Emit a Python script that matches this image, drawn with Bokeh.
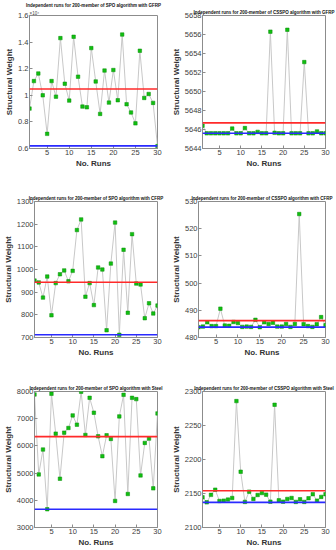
from bokeh.plotting import figure
from bokeh.layouts import column, row
from bokeh.models import Range1d, FixedTicker, Span, Title, ColumnDataSource
from bokeh.embed import file_html
from bokeh.resources import INLINE

runs = list(range(1, 31))

titles = [
    "Independent runs for 200-member of SPO algorithm with GFRP",
    "Independent runs for 200-member of CSSPO algorithm with GFRP",
    "Independent runs for 200-member of SPO algorithm with CFRP",
    "Independent runs for 200-member of CSSPO algorithm with CFRP",
    "Independent runs for 200-member of SPO algorithm with Steel",
    "Independent runs for 200-member of CSSPO algorithm with Steel",
]

spo_gfrp = [0.90, 1.107, 1.164, 1.0, 0.71, 1.107, 0.99, 1.43, 1.087, 0.96,
            1.44, 1.14, 0.915, 0.91, 1.355, 1.104, 0.86, 1.186, 0.945, 1.19,
            0.963, 1.457, 0.933, 0.871, 0.789, 1.335, 0.98, 1.01, 0.943, 0.618]
csspo_gfrp = [5646.4, 5645.6, 5645.6, 5645.6, 5645.6, 5645.6, 5645.6, 5646.1, 5645.6, 5645.6,
              5646.15, 5645.6, 5645.6, 5645.75, 5645.6, 5645.6, 5656.3, 5645.65, 5645.6, 5645.6,
              5656.5, 5645.6, 5645.6, 5645.6, 5653.1, 5645.6, 5645.6, 5645.8, 5645.6, 5645.6]
spo_cfrp = [951, 943, 876, 969, 798, 940, 979, 996, 948, 994,
            1174, 1221, 880, 940, 843, 1009, 1000, 732, 1026, 1207,
            712, 1087, 809, 1156, 938, 934, 785, 851, 806, 841]
csspo_cfrp = [483.8, 484.0, 485.6, 484.2, 484.2, 490.6, 484.4, 484.3, 485.7, 485.3,
              483.9, 484.0, 483.9, 486.5, 483.8, 485.6, 485.0, 485.4, 484.0, 484.0,
              485.0, 483.9, 485.0, 525.4, 484.9, 484.2, 483.9, 484.9, 487.5, 484.5]
spo_steel = [7890, 4951, 5866, 3671, 7915, 6451, 4793, 6488, 6659, 7122,
             6780, 7990, 6402, 7768, 7220, 6354, 5622, 6390, 6256, 3976,
             7085, 7878, 4232, 7768, 7720, 4915, 6110, 6268, 4439, 7195]
csspo_steel = [2144.4, 2137, 2148, 2155.6, 2139, 2139.5, 2141, 2143.4, 2285.9, 2182,
               2137.6, 2152.7, 2142, 2147.8, 2150.7, 2148.3, 2138, 2280.5, 2140, 2138,
               2142, 2143.4, 2137.6, 2141.5, 2137.6, 2143, 2149, 2139.5, 2145, 2149]

series = [spo_gfrp, csspo_gfrp, spo_cfrp, csspo_cfrp, spo_steel, csspo_steel]
mean_lines = [1.047, 5646.7, 944, 486.2, 6341, 2154]
best_lines = [0.62, 5645.6, 712, 483.8, 3671, 2137]

y_ticks = [
    [0.6, 0.8, 1.0, 1.2, 1.4, 1.6],
    [5644, 5646, 5648, 5650, 5652, 5654, 5656, 5658],
    [700, 800, 900, 1000, 1100, 1200, 1300],
    [480, 490, 500, 510, 520, 530],
    [3000, 4000, 5000, 6000, 7000, 8000],
    [2100, 2150, 2200, 2250, 2300],
]
x_ticks = [5, 10, 15, 20, 25, 30]

FONT = "Liberation Sans"

# layout: (width, height, border_left, border_right, border_top, border_bottom)
geo = [
    (168, 185, 29, 11, 13, 37),
    (168, 185, 28, 11, 13, 37),
    (168, 180, 29, 11, 16, 28),
    (168, 180, 28, 11, 16, 28),
    (168, 184, 29, 11, 26, 21),
    (168, 184, 28, 11, 26, 21),
]

figs = []
for i in range(6):
    w, h, bl, br, bt, bb = geo[i]
    ys = series[i]
    yt = y_ticks[i]
    p = figure(width=w, height=h, output_backend="svg", toolbar_location=None,
               x_range=Range1d(1, 30), y_range=Range1d(yt[0], yt[-1]),
               min_border_left=bl, min_border_right=br,
               min_border_top=bt, min_border_bottom=bb)
    p.title.text = titles[i]
    p.title.text_font = FONT
    p.title.text_font_size = "4.5px"
    p.title.text_font_style = "bold"
    p.title.text_color = "#111111"
    p.title.align = "center"
    p.title.standoff = 1 if i == 0 else 2
    p.title.offset = 0
    if i == 0:
        p.add_layout(Title(text="×10⁴", text_font=FONT, text_font_size="4.5px",
                           text_font_style="normal", text_color="#404040",
                           align="left", standoff=0, offset=0), "above")
    p.grid.visible = False
    p.outline_line_color = "#8c8c8c"
    p.outline_line_width = 1
    p.background_fill_color = "white"
    p.border_fill_color = "white"

    for ax in (p.xaxis[0], p.yaxis[0]):
        ax.major_tick_in = 3
        ax.major_tick_out = 0
        ax.minor_tick_line_color = None
        ax.axis_line_color = "#8c8c8c"
        ax.major_tick_line_color = "#8c8c8c"
        ax.major_label_text_font = FONT
        ax.major_label_text_font_size = "7.5px"
        ax.major_label_text_color = "#404040"
        ax.major_label_standoff = 1
        ax.axis_label_text_font = FONT
        ax.axis_label_text_font_size = "8px"
        ax.axis_label_text_font_style = "bold"
        ax.axis_label_text_color = "#333333"
        ax.axis_label_standoff = 1
    p.xaxis.ticker = FixedTicker(ticks=x_ticks)
    p.yaxis.ticker = FixedTicker(ticks=yt)
    p.xaxis.axis_label = "No. Runs"
    p.yaxis.axis_label = "Structural Weight"
    if i == 0:
        p.yaxis.major_label_overrides = {1.0: "1", 1: "1"}

    p.add_layout(Span(location=mean_lines[i], dimension="width",
                      line_color="#ff2a2a", line_width=1.6))
    p.add_layout(Span(location=best_lines[i], dimension="width",
                      line_color="#2a2aff", line_width=1.6))

    src = ColumnDataSource(dict(x=runs, y=ys))
    p.line("x", "y", source=src, line_color="#c8c8c8", line_width=1)
    p.scatter("x", "y", source=src, marker="square", size=3.5,
              fill_color="#10c010", line_color="#0a8a0a", line_width=0.5)
    figs.append(p)

layout = column(row(figs[0], figs[1]), row(figs[2], figs[3]), row(figs[4], figs[5]))

open("out.html", "w").write(file_html(layout, INLINE))
